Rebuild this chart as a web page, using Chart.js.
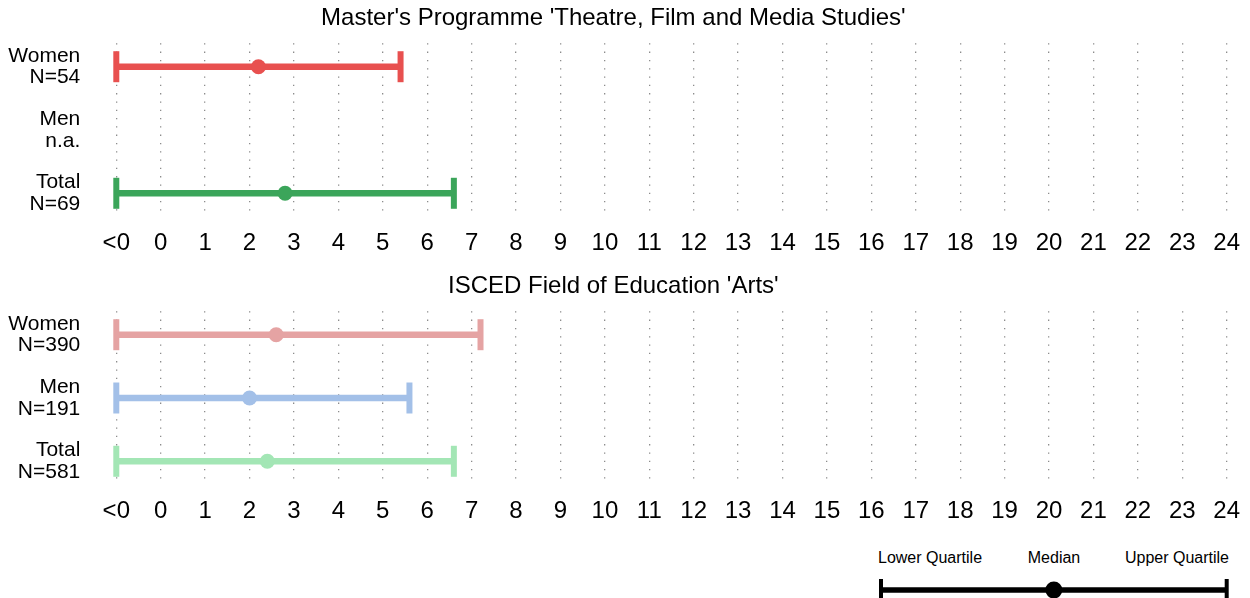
<!DOCTYPE html>
<html>
<head>
<meta charset="utf-8">
<title>Quartiles</title>
<script src="https://cdn.jsdelivr.net/npm/chart.js@4.4.1/dist/chart.umd.min.js"></script>
<style>
  body { margin: 0; background: #fff; width: 1250px; height: 598px; overflow: hidden; position: relative;
         font-family: "Liberation Sans", Arial, sans-serif; }
  .panel { position: absolute; left: 0; width: 1250px; height: 260px; }
  #legendBox { position: absolute; left: 860px; top: 570px; width: 390px; height: 28px; }
  .key { position: absolute; top: 548px; font-size: 16px; line-height: 19px; color: #000; white-space: nowrap; }
</style>
</head>
<body>
<div class="panel" style="top:0"><canvas id="topChart" width="1250" height="260"></canvas></div>
<div class="panel" style="top:268px"><canvas id="bottomChart" width="1250" height="260"></canvas></div>
<div id="legendBox"><canvas id="legendChart" width="390" height="28"></canvas></div>
<div class="key" style="left:878px">Lower Quartile</div>
<div class="key" style="left:1054px; transform:translateX(-50%)">Median</div>
<div class="key" style="right:21px">Upper Quartile</div>

<script>
// data
const xTickLabels = ['<0', '0', '1', '2', '3', '4', '5', '6', '7', '8', '9', '10', '11', '12',
  '13', '14', '15', '16', '17', '18', '19', '20', '21', '22', '23', '24'];
const groups = ['Women', 'Men', 'Total'];

const topTitle = "Master's Programme 'Theatre, Film and Media Studies'";
const topCounts = ['N=54', 'n.a.', 'N=69'];
const topLower = [-1, null, -1];
const topMedian = [2.2, null, 2.8];
const topUpper = [5.4, null, 6.6];

const bottomTitle = "ISCED Field of Education 'Arts'";
const bottomCounts = ['N=390', 'N=191', 'N=581'];
const bottomLower = [-1, -1, -1];
const bottomMedian = [2.6, 2.0, 2.4];
const bottomUpper = [7.2, 5.6, 6.6];

const keyPoints = [0, 1, 2]; // lower quartile, median, upper quartile in the key

const topColors = ['#e8504f', '#a3c0e8', '#3ba55a'];
const bottomColors = ['#e5a3a3', '#a3c0e8', '#a3e6b5'];

Chart.defaults.font.family = '"Liberation Sans", Arial, sans-serif';
Chart.defaults.color = '#000';
Chart.defaults.animation = false;

function makePanel(id, title, counts, lower, median, upper, colors) {
  const rows = [];
  groups.forEach((g, i) => { if (median[i] !== null) rows.push(i); });

  const caps = [];
  const capColors = [];
  rows.forEach((i) => {
    caps.push({ x: lower[i], y: i }, { x: upper[i], y: i });
    capColors.push(colors[i], colors[i]);
  });

  new Chart(document.getElementById(id), {
    data: {
      datasets: [
        {
          type: 'scatter',
          data: rows.map((i) => ({ x: median[i], y: i })),
          backgroundColor: rows.map((i) => colors[i]),
          pointRadius: 7.5,
          pointHoverRadius: 7.5,
          borderWidth: 0,
          clip: false,
          order: 0,
        },
        {
          type: 'scatter',
          data: caps,
          pointStyle: 'line',
          rotation: 90,
          pointRadius: 15.5,
          pointHoverRadius: 15.5,
          borderColor: capColors,
          borderWidth: 6,
          clip: false,
          order: 1,
        },
        {
          type: 'bar',
          data: rows.map((i) => ({ x: [lower[i], upper[i]], y: i })),
          backgroundColor: rows.map((i) => colors[i]),
          barThickness: 6,
          borderWidth: 0,
          clip: false,
          order: 2,
        },
      ],
    },
    options: {
      responsive: false,
      indexAxis: 'y',
      events: [],
      layout: { autoPadding: false, padding: { left: 0, right: 23.3, top: 0, bottom: 0 } },
      plugins: {
        legend: { display: false },
        tooltip: { enabled: false },
        title: {
          display: true,
          text: title,
          font: { size: 24, weight: 'normal' },
          color: '#000',
          padding: { top: 3.6, bottom: 10.9 },
        },
      },
      scales: {
        x: {
          type: 'linear',
          position: 'bottom',
          min: -1,
          max: 24,
          afterFit: (scale) => {
            scale.height = 43.3;
            scale.paddingLeft = 0;
            scale.paddingRight = 0;
          },
          ticks: {
            stepSize: 1,
            autoSkip: false,
            maxRotation: 0,
            padding: 12,
            font: { size: 24 },
            color: '#000',
            callback: (v, i) => xTickLabels[i],
          },
          grid: { color: '#8c8c8c', lineWidth: 1.3, drawTicks: false },
          border: { display: false, dash: [1.3, 7] },
        },
        y: {
          type: 'linear',
          min: -0.37,
          max: 2.37,
          reverse: true,
          offset: false,
          afterBuildTicks: (scale) => { scale.ticks = [0, 1, 2].map((v) => ({ value: v })); },
          afterFit: (scale) => {
            scale.width = 116.3;
            scale.paddingTop = 0;
            scale.paddingBottom = 0;
          },
          ticks: {
            padding: 36,
            font: { size: 21, lineHeight: 1.035 },
            color: '#000',
            callback: (v) => [groups[v], counts[v]],
          },
          grid: { display: false, drawTicks: false, offset: false },
          border: { display: false },
        },
      },
    },
  });
}

makePanel('topChart', topTitle, topCounts, topLower, topMedian, topUpper, topColors);
makePanel('bottomChart', bottomTitle, bottomCounts, bottomLower, bottomMedian, bottomUpper, bottomColors);

// key: lower quartile, median, upper quartile
new Chart(document.getElementById('legendChart'), {
  data: {
    datasets: [
      {
        type: 'scatter',
        data: [{ x: keyPoints[1], y: 0 }],
        backgroundColor: '#000',
        pointRadius: 8.5,
        borderWidth: 0,
        clip: false,
        order: 0,
      },
      {
        type: 'scatter',
        data: [{ x: keyPoints[0], y: 0 }, { x: keyPoints[2], y: 0 }],
        pointStyle: 'line',
        rotation: 90,
        pointRadius: 11,
        borderColor: '#000',
        borderWidth: 4,
        clip: false,
        order: 1,
      },
      {
        type: 'bar',
        data: [{ x: [keyPoints[0], keyPoints[2]], y: 0 }],
        backgroundColor: '#000',
        barThickness: 5,
        borderWidth: 0,
        clip: false,
        order: 2,
      },
    ],
  },
  options: {
    responsive: false,
    indexAxis: 'y',
    events: [],
    layout: { autoPadding: false, padding: { left: 21, right: 23.3, top: 0, bottom: 0 } },
    plugins: { legend: { display: false }, tooltip: { enabled: false } },
    scales: {
      x: { type: 'linear', min: 0, max: 2, display: false },
      y: { type: 'linear', min: -0.4, max: 1, offset: false, display: false },
    },
  },
});
</script>
</body>
</html>
